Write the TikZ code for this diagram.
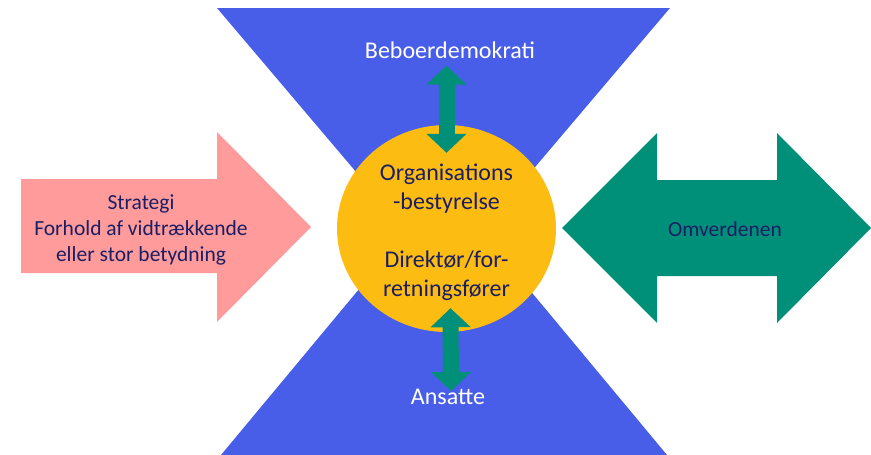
\documentclass[tikz,border=0pt]{standalone}
\usepackage{fontspec}
\setmainfont{Carlito}
\usetikzlibrary{arrows.meta, shapes.geometric, positioning, calc}
\definecolor{hourblue}{RGB}{73,94,232}
\definecolor{orgyellow}{RGB}{253,188,17}
\definecolor{tealarr}{RGB}{0,144,122}
\definecolor{pinkarr}{RGB}{255,155,155}
\definecolor{navytxt}{RGB}{28,30,100}

\begin{document}
\begin{tikzpicture}[x=1pt, y=-1pt,
  txt/.style={inner sep=0pt, align=center, text=navytxt},
  big/.style={font=\fontsize{24}{29}\selectfont},
  mid/.style={font=\fontsize{21.5}{26}\selectfont},
  link/.style={draw=tealarr, line width=16pt,
    {Triangle[length=19pt,width=39pt]}-{Triangle[length=19pt,width=39pt]}}]
  \useasboundingbox (0,0) rectangle (871,455);

  % hourglass
  \fill[hourblue] (217,8) -- (670,8) -- (443.5,275) -- cycle;
  \fill[hourblue] (221,455) -- (667,455) -- (444,187) -- cycle;

  % side arrows
  \fill[pinkarr] (21,179) -- (217,179) -- (217,132) -- (311,227)
    -- (217,322) -- (217,273) -- (21,273) -- cycle;
  \fill[tealarr] (562,228) -- (657,133) -- (657,180) -- (777,180)
    -- (777,133) -- (871,228) -- (777,323) -- (777,276)
    -- (657,276) -- (657,323) -- cycle;

  \node[ellipse, fill=orgyellow, minimum width=219pt, minimum height=207pt,
    inner sep=0pt] (org) at (446.5,228.5) {};
  \node[txt, big] (orgtxt) at ([yshift=-4pt]org.center)
    {Organisations\\-bestyrelse\\[29pt]Direktør/for-\\retningsfører};

  \node[txt, big, text=white] (bebo) at (450,50) {Beboerdemokrati};
  \node[txt, big, text=white] (ansatte) at (448,397) {Ansatte};
  \node[txt, mid] (strategi) at (141,230)
    {Strategi\\Forhold af vidtrækkende\\eller stor betydning};
  \node[txt, mid] (omverden) at (725,229) {Omverdenen};

  \draw[link] ([yshift=-7pt]bebo.south -| org.north) -- ([yshift=-28pt]org.north);
  \draw[link] ([xshift=4pt,yshift=24pt]org.south) -- ([xshift=3pt,yshift=-2pt]ansatte.north);
\end{tikzpicture}
\end{document}
